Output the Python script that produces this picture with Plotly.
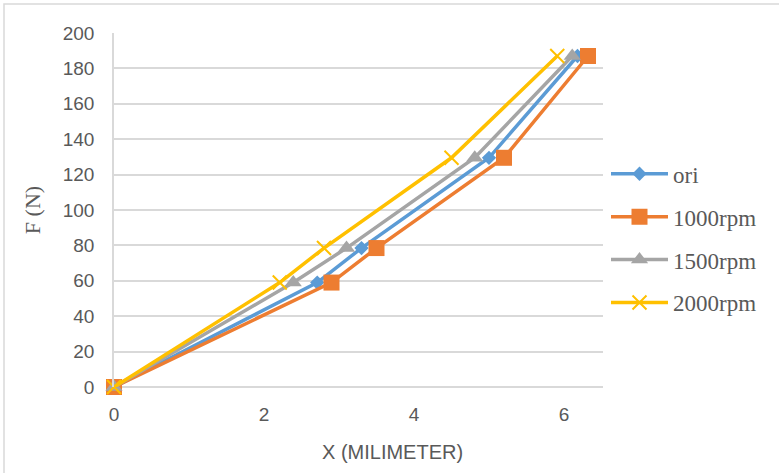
import plotly.graph_objects as go

# Force levels (N) shared by all test conditions
force = [0, 59, 78.5, 129.5, 187]

# Displacement (mm) for each condition
x_ori = [0, 2.71, 3.30, 5.00, 6.18]
x_1000 = [0, 2.90, 3.50, 5.20, 6.32]
x_1500 = [0, 2.39, 3.10, 4.81, 6.11]
x_2000 = [0, 2.21, 2.80, 4.50, 5.91]

series_names = ["ori", "1000rpm", "1500rpm", "2000rpm"]
series_x = [x_ori, x_1000, x_1500, x_2000]
colors = ["#5B9BD5", "#ED7D31", "#A5A5A5", "#FFC000"]
symbols = ["diamond", "square", "triangle-up", "x-thin-open"]
sizes = [11, 16, 15, 14]

W, H = 779, 473
L, R, T, B = 114, 176, 33, 86
PW, PH = W - L - R, H - T - B

fig = go.Figure()
for i, (name, xs) in enumerate(zip(series_names, series_x)):
    marker = dict(symbol=symbols[i], size=sizes[i], color=colors[i])
    if symbols[i].endswith("open"):
        marker["line"] = dict(color=colors[i], width=2)
    else:
        marker["line"] = dict(width=0)
    fig.add_trace(go.Scatter(
        x=xs, y=force, name=name, mode="lines+markers",
        line=dict(color=colors[i], width=3.5),
        marker=marker, cliponaxis=False,
        legendgroup=name,
    ))

grid = "#D9D9D9"
tick_font = dict(family="Liberation Sans, Arial, sans-serif", size=19, color="#595959")
serif = "Liberation Serif, Times New Roman, serif"

fig.update_layout(
    width=W, height=H,
    margin=dict(l=L, r=R, t=T, b=B),
    paper_bgcolor="white", plot_bgcolor="white",
    showlegend=True,
    legend=dict(
        x=(606 - L) / PW, y=0.42, xanchor="left", yanchor="middle",
        font=dict(family=serif, size=23, color="#595959"),
        traceorder="grouped", tracegroupgap=10,
        bgcolor="rgba(0,0,0,0)", itemwidth=57,
    ),
    xaxis=dict(
        range=[0, 6.52], tickvals=[0, 2, 4, 6],
        showgrid=False, zeroline=False, showline=False,
        tickfont=tick_font, ticklabelstandoff=14,
    ),
    yaxis=dict(
        range=[0, 200], dtick=20,
        showgrid=True, gridcolor=grid, gridwidth=1.5,
        zeroline=True, zerolinecolor=grid, zerolinewidth=1.5,
        showline=True, linecolor=grid, linewidth=1.5,
        tickfont=tick_font, ticklabelstandoff=14,
        title=dict(text="F (N)",
                   font=dict(family=serif, size=22, color="#595959"),
                   standoff=16),
    ),
    annotations=[dict(
        text="X (MILIMETER)", xref="paper", yref="paper",
        x=(392 - L) / PW, y=-(452 - T - PH) / PH,
        xanchor="center", yanchor="middle", showarrow=False,
        font=dict(family="Liberation Sans, Arial, sans-serif", size=20, color="#595959"),
    )],
    shapes=[dict(
        type="rect", xref="paper", yref="paper", layer="below",
        x0=(4 - L) / PW, x1=(W + 10 - L) / PW,
        y0=(PH - (H + 10 - T)) / PH, y1=(PH - (4 - T)) / PH,
        line=dict(color="#D9D9D9", width=1.5), fillcolor="rgba(0,0,0,0)",
    )],
)

fig.write_html("out.html")
